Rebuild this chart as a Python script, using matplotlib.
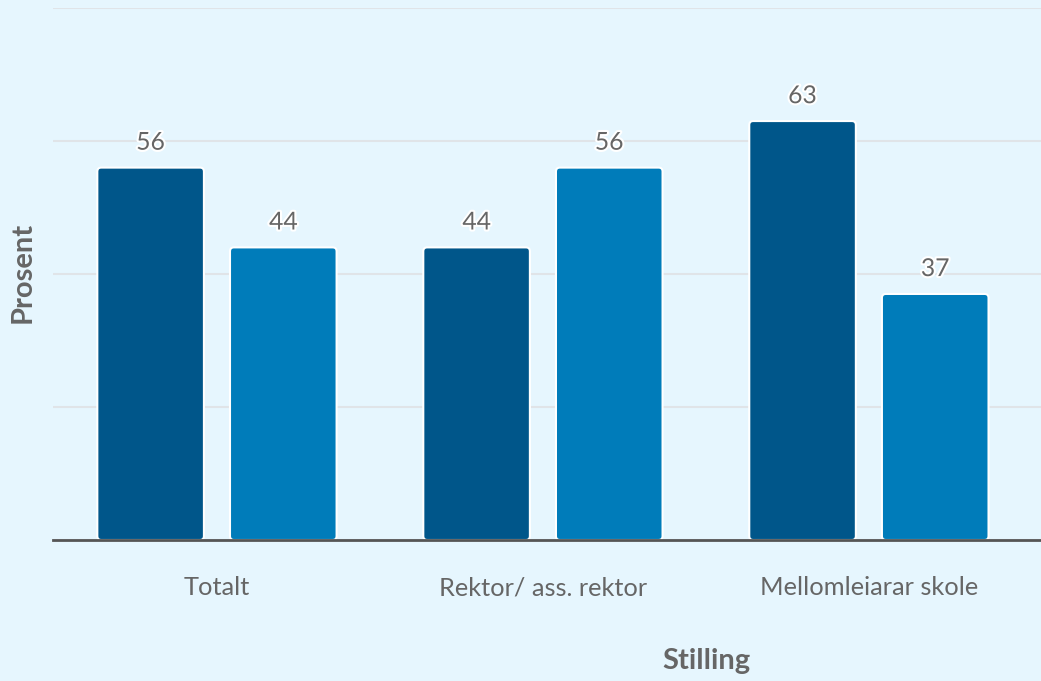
import matplotlib
matplotlib.use("Agg")
import matplotlib.pyplot as plt
from matplotlib.patches import FancyBboxPatch
import matplotlib.patheffects as pe
import numpy as np

categories = ["Totalt", "Rektor/ ass. rektor", "Mellomleiarar skole"]
series_a = [56, 44, 63]
series_b = [44, 56, 37]
yticks = [0, 20, 40, 60, 80]

BG = "#E6F6FE"
C_A = "#00568A"
C_B = "#007CBA"
TXT = "#666666"
FONT = ["Lato", "DejaVu Sans"]
plt.rcParams["font.family"] = FONT

W, H = 1041, 681
fig = plt.figure(figsize=(W / 100, H / 100), dpi=100, facecolor=BG)
ax = fig.add_axes([53 / W, 1 - 540 / H, 1 - 53 / W, (540 - 8) / H])
ax.set_facecolor(BG)

x = np.arange(len(categories))
bw = 0.327
off = 0.2035
ax.set_xlim(-0.503, 2.528)
ax.set_ylim(0, 80)

ax.set_yticks(yticks)
ax.set_yticklabels([])
ax.tick_params(axis="y", length=0)
ax.grid(axis="y", color="#E0E4E8", linewidth=1.5)
ax.set_axisbelow(True)
for s in ["top", "right", "left"]:
    ax.spines[s].set_visible(False)
ax.spines["bottom"].set_color("#555555")
ax.spines["bottom"].set_linewidth(2)
ax.spines["bottom"].set_zorder(5)

ax.set_xticks(x)
ax.set_xticklabels(categories, fontsize=18.3, color=TXT)
ax.tick_params(axis="x", length=0, pad=26)

ax_w_px = W * (1 - 53 / W)
ax_h_px = 532
px_x = ax_w_px / (2.528 + 0.503)
px_y = ax_h_px / 80.0
aspect = px_x / px_y

def draw(xs, vals, color):
    bars = ax.bar(xs, vals, width=bw, color=color, alpha=0)
    for b, v in zip(bars, vals):
        p = FancyBboxPatch((b.get_x(), b.get_y()), b.get_width(), b.get_height(),
                           boxstyle="round,pad=0,rounding_size=0.012",
                           mutation_aspect=aspect, facecolor=color,
                           edgecolor="white", linewidth=1.5, zorder=3)
        ax.add_patch(p)
        t = ax.annotate(f"{v}", (b.get_x() + b.get_width() / 2, v),
                        xytext=(0, 10), textcoords="offset points",
                        ha="center", va="bottom", fontsize=17.8, color=TXT, zorder=6)
        t.set_path_effects([pe.withStroke(linewidth=3, foreground="white")])

draw(x - off, series_a, C_A)
draw(x + off, series_b, C_B)

fig.text(706 / W, 1 - 661 / H, "Stilling", ha="center", va="center",
         fontsize=21, fontweight="bold", color=TXT)
fig.text(23 / W, 1 - 272 / H, "Prosent", ha="center", va="center",
         rotation=90, fontsize=21, fontweight="bold", color=TXT)

fig.savefig("out.png", dpi=100, facecolor=BG)
